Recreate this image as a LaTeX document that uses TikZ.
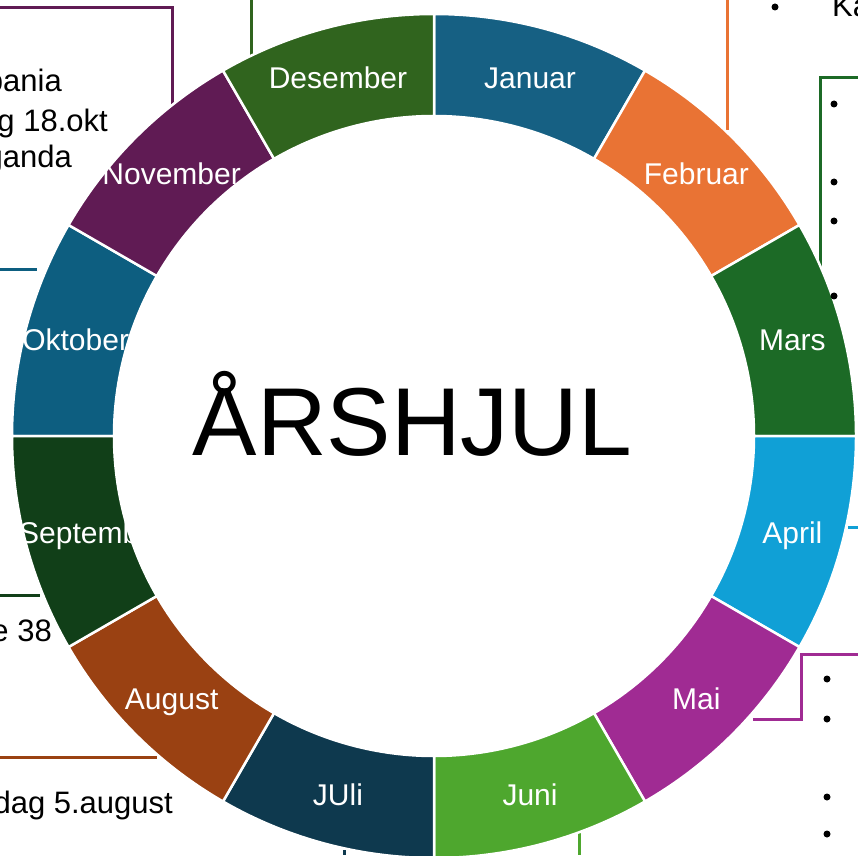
\documentclass[tikz,border=0pt]{standalone}
\usepackage{fontspec}
\setmainfont{Liberation Sans}
\definecolor{cJan}{HTML}{166083}
\definecolor{cFeb}{HTML}{E97334}
\definecolor{cMar}{HTML}{1C6A26}
\definecolor{cApr}{HTML}{10A0D6}
\definecolor{cMai}{HTML}{A02B93}
\definecolor{cJun}{HTML}{4EA72E}
\definecolor{cJul}{HTML}{0E394E}
\definecolor{cAug}{HTML}{9A4112}
\definecolor{cSep}{HTML}{113F18}
\definecolor{cOkt}{HTML}{0D5E80}
\definecolor{cNov}{HTML}{601B54}
\definecolor{cDes}{HTML}{30641E}
\begin{document}
\begin{tikzpicture}[x=1pt,y=1pt,
  conn/.style={line width=3pt},
  seg/.style={draw=white,line width=2.5pt},
  mlabel/.style={text=white,font=\fontsize{30}{36}\selectfont,text height=22pt,text depth=0pt,inner sep=0pt},
  side/.style={font=\fontsize{31}{37}\selectfont,inner sep=0pt},
  dot/.style={circle,fill=black,inner sep=0pt,minimum size=7pt}]
\useasboundingbox (0,0) rectangle (858,855);
\coordinate (C) at (434,419);
% connectors (behind the wheel)
\coordinate (nov0) at (0,847);
\coordinate (nov1) at (172,847);
\coordinate (nov2) at (172,745);
\draw[conn,cNov] (nov0) -- (nov1) -- (nov2);
\coordinate (des0) at (251,855);
\coordinate (des1) at (251,795);
\draw[conn,cDes] (des0) -- (des1);
\coordinate (feb0) at (727,855);
\coordinate (feb1) at (727,725);
\draw[conn,cFeb] (feb0) -- (feb1);
\coordinate (mar0) at (858,777);
\coordinate (mar1) at (820,777);
\coordinate (mar2) at (820,585);
\draw[conn,cMar] (mar0) -- (mar1) -- (mar2);
\coordinate (okt0) at (0,585);
\coordinate (okt1) at (37,585);
\draw[conn,cOkt] (okt0) -- (okt1);
\coordinate (sep0) at (0,260);
\coordinate (sep1) at (40,260);
\draw[conn,cSep] (sep0) -- (sep1);
\coordinate (aug0) at (0,98);
\coordinate (aug1) at (157,98);
\draw[conn,cAug] (aug0) -- (aug1);
\coordinate (apr0) at (848,328);
\coordinate (apr1) at (858,328);
\draw[conn,cApr] (apr0) -- (apr1);
\coordinate (mai0) at (858,201);
\coordinate (mai1) at (801,201);
\coordinate (mai2) at (801,136);
\coordinate (mai3) at (753,136);
\draw[conn,cMai] (mai0) -- (mai1) -- (mai2) -- (mai3);
\coordinate (jun0) at (579,22);
\coordinate (jun1) at (579,0);
\draw[conn,cJun] (jun0) -- (jun1);
\coordinate (jul0) at (344,5);
\coordinate (jul1) at (344,0);
\draw[conn,cJul] (jul0) -- (jul1);
% wheel
\foreach \i/\col/\name in {0/cJan/Januar,1/cFeb/Februar,2/cMar/Mars,3/cApr/April,4/cMai/Mai,5/cJun/Juni,6/cJul/JUli,7/cAug/August,9/cOkt/Oktober,10/cNov/November,11/cDes/Desember}{
  \pgfmathsetmacro\a{90-30*\i}
  \pgfmathsetmacro\b{60-30*\i}
  \pgfmathsetmacro\c{75-30*\i}
  \path[seg,fill=\col] ([shift={(\a:320)}]C) -- ([shift={(\a:422)}]C)
     arc[start angle=\a,end angle=\b,radius=422]
     -- ([shift={(\b:320)}]C)
     arc[start angle=\b,end angle=\a,radius=320] -- cycle;
  \node[mlabel] (m\i) at ([shift={(\c:371)}]C) {\name};
}
% September segment with its label placed from its left end
\path[seg,fill=cSep] ([shift={(-150:320)}]C) -- ([shift={(-150:422)}]C)
   arc[start angle=-150,end angle=-180,radius=422]
   -- ([shift={(-180:320)}]C)
   arc[start angle=-180,end angle=-150,radius=320] -- cycle;
\node[mlabel,anchor=west] (m8) at (19,323) {September};
\fill[white] (C) circle[radius=320];
\node[font=\fontsize{96.5}{100}\selectfont,anchor=base,inner sep=0pt] (title) at (412.5,400) {ÅRSHJUL};
% side texts
\node[side,anchor=base east] (t1) at (62,763) {pania};
\node[side,anchor=base east] (t2) at (108,723) {g 18.okt};
\node[side,anchor=base east] (t3) at (72,687) {ganda};
\node[side,anchor=base east] (t4) at (52,214) {e 38};
\node[side,anchor=base east] (t5) at (173,42) {dag 5.august};
\node[side,anchor=base west] (t6) at (832,838) {Ka};
% bullets
\node[dot] (b0) at (775,848) {};
\node[dot] (b1) at (834,751) {};
\node[dot] (b2) at (834,673) {};
\node[dot] (b3) at (834,634) {};
\node[dot] (b4) at (834,559) {};
\node[dot] (b5) at (827,176) {};
\node[dot] (b6) at (827,136) {};
\node[dot] (b7) at (827,58) {};
\node[dot] (b8) at (827,21) {};
\end{tikzpicture}
\end{document}
